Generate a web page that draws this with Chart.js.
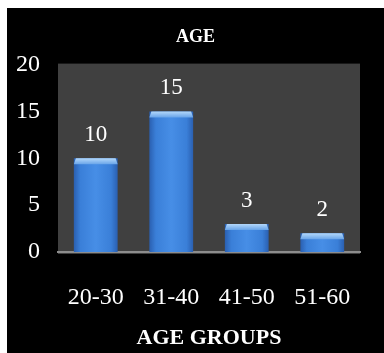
<!DOCTYPE html>
<html>
<head>
<meta charset="utf-8">
<script src="https://cdn.jsdelivr.net/npm/chart.js@4/dist/chart.umd.min.js"></script>
<style>
  html, body { margin: 0; padding: 0; background: #fff; }
  #wrap { position: absolute; left: 7px; top: 8px; width: 377px; height: 345px; background: #000; }
</style>
</head>
<body>
<div id="wrap"><canvas id="ageChart" width="377" height="345"></canvas></div>
<script>
// chart data
var ageGroups = ["20-30", "31-40", "41-50", "51-60"];
var ageCounts = [10, 15, 3, 2];
var yTicks = [0, 5, 10, 15, 20];

var serif = "'Liberation Serif', 'Times New Roman', serif";

// grey plot background
var plotBg = {
    id: 'plotBg',
    beforeDraw: function(chart) {
        var a = chart.chartArea;
        var ctx = chart.ctx;
        ctx.save();
        ctx.fillStyle = '#404040';
        ctx.fillRect(a.left, a.top - 1, a.right - a.left, a.bottom - a.top + 3);
        ctx.restore();
    }
};

// light cap on top of each bar + value labels
var barExtras = {
    id: 'barExtras',
    afterDatasetsDraw: function(chart) {
        var ctx = chart.ctx;
        var meta = chart.getDatasetMeta(0);
        ctx.save();
        meta.data.forEach(function(bar, i) {
            var half = bar.width / 2;
            var g = ctx.createLinearGradient(0, bar.y, 0, bar.y + 7);
            g.addColorStop(0, '#b4d8fa');
            g.addColorStop(1, '#5c9ce6');
            ctx.fillStyle = g;
            ctx.beginPath();
            ctx.moveTo(bar.x - half + 2, bar.y);
            ctx.lineTo(bar.x + half - 2, bar.y);
            ctx.lineTo(bar.x + half, bar.y + 6);
            ctx.lineTo(bar.x - half, bar.y + 6);
            ctx.closePath();
            ctx.fill();

            ctx.fillStyle = '#ffffff';
            ctx.font = '23px ' + serif;
            ctx.textAlign = 'center';
            ctx.textBaseline = 'middle';
            ctx.fillText(String(ageCounts[i]), bar.x, bar.y - 23);
        });
        ctx.restore();
    }
};

function barColor(context) {
    var chart = context.chart;
    if (!chart.chartArea || !chart.scales.x) return '#3f86de';
    var x = chart.scales.x.getPixelForValue(context.dataIndex);
    var w = 44;
    var g = chart.ctx.createLinearGradient(x - w / 2, 0, x + w / 2, 0);
    g.addColorStop(0, '#2a5fb0');
    g.addColorStop(0.15, '#3a7fd8');
    g.addColorStop(0.5, '#478ee6');
    g.addColorStop(0.85, '#3a7fd8');
    g.addColorStop(1, '#2a5fb0');
    return g;
}

var chart = new Chart(document.getElementById('ageChart').getContext('2d'), {
    type: 'bar',
    data: {
        labels: ageGroups,
        datasets: [{
            data: ageCounts,
            backgroundColor: barColor,
            borderWidth: 0,
            categoryPercentage: 1,
            barPercentage: 0.58
        }]
    },
    options: {
        responsive: false,
        animation: false,
        layout: { padding: 0 },
        plugins: {
            legend: { display: false },
            tooltip: { enabled: false },
            title: {
                display: true,
                text: 'AGE',
                color: '#ffffff',
                font: { family: serif, size: 18, weight: 'bold' },
                padding: { top: 19, bottom: 16 }
            }
        },
        scales: {
            x: {
                grid: { display: false, drawTicks: false },
                border: { display: true, color: '#8c8c8c', width: 2 },
                ticks: { color: '#ffffff', font: { family: serif, size: 24 }, padding: 31 },
                title: {
                    display: true,
                    text: 'AGE GROUPS',
                    color: '#ffffff',
                    font: { family: serif, size: 22, weight: 'bold' },
                    padding: { top: 0, bottom: 1 }
                },
                afterFit: function(scale) { scale.height = 101; }
            },
            y: {
                min: 0,
                max: 20,
                grid: { display: false, drawTicks: false },
                border: { display: false },
                afterBuildTicks: function(scale) {
                    scale.ticks = yTicks.map(function(v) { return { value: v }; });
                },
                ticks: { color: '#ffffff', font: { family: serif, size: 24 }, padding: 18 },
                afterFit: function(scale) { scale.width = 51; }
            },
            // empty right axis, only keeps the black margin on the right
            yRight: {
                position: 'right',
                min: 0,
                max: 20,
                grid: { display: false, drawTicks: false },
                border: { display: false },
                ticks: { display: false },
                afterFit: function(scale) { scale.width = 22; }
            }
        }
    },
    plugins: [plotBg, barExtras]
});
</script>
</body>
</html>
